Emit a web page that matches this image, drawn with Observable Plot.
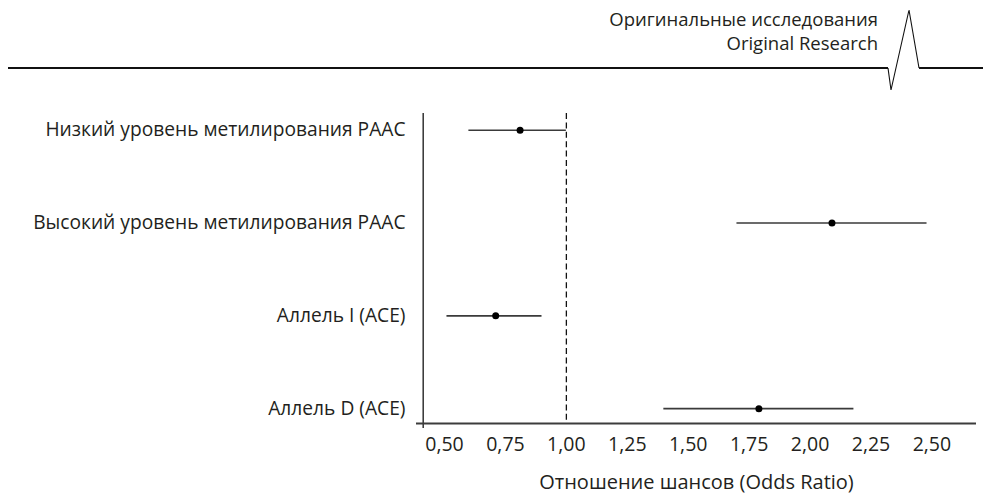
<!DOCTYPE html>
<html lang="ru">
<head>
<meta charset="utf-8">
<script src="https://cdn.jsdelivr.net/npm/d3@7"></script>
<script src="https://cdn.jsdelivr.net/npm/@observablehq/plot@0.6"></script>
<style>
  html, body { margin: 0; padding: 0; background: #fff; }
  body { width: 983px; height: 494px; overflow: hidden; font-family: "Open Sans", sans-serif; color: #231f20; }
  #header { position: relative; height: 95px; }
  #header svg { position: absolute; left: 0; top: 0; }
  #header .title { position: absolute; right: 105px; top: 7px; text-align: right; font-size: 18.5px; line-height: 24px; }
  #chart svg { display: block; }
</style>
</head>
<body>
<div id="header">
  <svg width="983" height="95">
    <line x1="8" y1="68" x2="888" y2="68" stroke="#111" stroke-width="1.8"/>
    <polyline points="888,68 891,90 909,10 919,68" fill="none" stroke="#111" stroke-width="1.1" stroke-linejoin="miter"/>
    <line x1="919" y1="68" x2="983" y2="68" stroke="#111" stroke-width="1.8"/>
  </svg>
  <div class="title">Оригинальные исследования<br>Original Research</div>
</div>
<div id="chart"></div>
<script>
// Forest plot: odds ratios with 95% confidence intervals
const rows = [
  "Низкий уровень метилирования РААС",
  "Высокий уровень метилирования РААС",
  "Аллель I (ACE)",
  "Аллель D (ACE)"
];
const oddsRatio = [0.81, 2.09, 0.71, 1.79];
const ciLow = [0.60, 1.70, 0.51, 1.40];
const ciHigh = [1.00, 2.48, 0.90, 2.18];
const xTicks = [0.50, 0.75, 1.00, 1.25, 1.50, 1.75, 2.00, 2.25, 2.50];
const referenceOR = 1;
const xTitle = "Отношение шансов (Odds Ratio)";

// Scale extents (x-axis crosses slightly left of the y-axis)
const xDomain = [0.385, 2.683];
const axisOrigin = 0.4125;
const yDomain = [3.16, -0.18];

const data = rows.map((row, i) => ({i, row, or: oddsRatio[i], lo: ciLow[i], hi: ciHigh[i]}));
const fmt = d => d.toFixed(2).replace(".", ",");

const chart = Plot.plot({
  width: 983,
  height: 399,
  marginLeft: 416,
  marginRight: 7,
  marginTop: 18,
  marginBottom: 71,
  style: {fontFamily: "'Open Sans', sans-serif", fontSize: "19px", color: "#231f20", background: "#fff"},
  x: {domain: xDomain},
  y: {domain: yDomain},
  marks: [
    Plot.ruleX([referenceOR], {stroke: "#111", strokeWidth: 1.3, strokeDasharray: "6,3.4"}),
    Plot.ruleX([axisOrigin], {stroke: "#333", strokeWidth: 1.5, insetBottom: -5}),
    Plot.ruleY([yDomain[0]], {stroke: "#3c3c3c", strokeWidth: 2}),
    Plot.ruleY(data, {y: "i", x1: "lo", x2: "hi", stroke: "#3a3a3a", strokeWidth: 1.6}),
    Plot.dot(data, {x: "or", y: "i", r: 3.5, fill: "#000", stroke: null}),
    Plot.axisX({ticks: xTicks, tickFormat: fmt, tickSize: 0, tickPadding: 14, fontSize: 19.5, label: null}),
    Plot.axisY({ticks: d3.range(rows.length), tickFormat: i => rows[i], tickSize: 0, tickPadding: 11, fontSize: 19.2, label: null}),
    Plot.text([xTitle], {frameAnchor: "bottom", dy: 65, fontSize: 20})
  ]
});
document.getElementById("chart").append(chart);
</script>
</body>
</html>
